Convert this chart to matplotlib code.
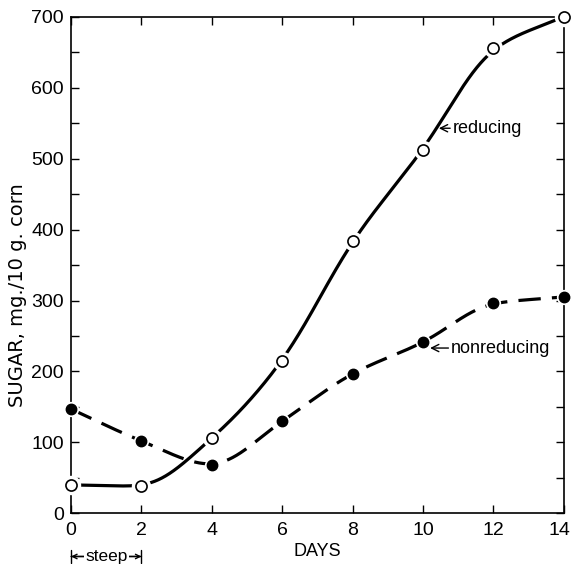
import numpy as np
import matplotlib
matplotlib.use("Agg")
import matplotlib.pyplot as plt
from matplotlib.transforms import ScaledTranslation

# data
days = [0, 2, 4, 6, 8, 10, 12, 14]
reducing = [40, 38, 106, 215, 384, 513, 656, 700]
nonreducing = [147, 102, 68, 130, 197, 241, 296, 305]

plt.rcParams['font.family'] = ['Liberation Sans', 'DejaVu Sans']


def pchip(x, y, xs):
    # monotone cubic (Fritsch-Carlson) through the points, only for drawing the curve
    x = np.asarray(x, float)
    y = np.asarray(y, float)
    h = np.diff(x)
    d = np.diff(y) / h
    m = np.zeros_like(y)
    for i in range(1, len(x) - 1):
        if d[i - 1] * d[i] > 0:
            w1 = 2 * h[i] + h[i - 1]
            w2 = h[i] + 2 * h[i - 1]
            m[i] = (w1 + w2) / (w1 / d[i - 1] + w2 / d[i])
    m[0] = d[0]
    m[-1] = d[-1]
    idx = np.clip(np.searchsorted(x, xs) - 1, 0, len(x) - 2)
    t = (xs - x[idx]) / h[idx]
    h00 = 2 * t ** 3 - 3 * t ** 2 + 1
    h10 = t ** 3 - 2 * t ** 2 + t
    h01 = -2 * t ** 3 + 3 * t ** 2
    h11 = t ** 3 - t ** 2
    return h00 * y[idx] + h10 * h[idx] * m[idx] + h01 * y[idx + 1] + h11 * h[idx] * m[idx + 1]


def smooth_curve(x, y, sigma=0.4, step=0.01):
    # hand-drawn look: monotone cubic, then a light gaussian blur along x
    xs = np.arange(x[0], x[-1] + step / 2, step)
    ys = pchip(x, y, xs)
    pad = int(4 * sigma / step)
    left = ys[0] - (ys[1] - ys[0]) * np.arange(pad, 0, -1)
    right = ys[-1] + (ys[-1] - ys[-2]) * np.arange(1, pad + 1)
    full = np.concatenate([left, ys, right])
    k = np.arange(-pad, pad + 1) * step
    w = np.exp(-0.5 * (k / sigma) ** 2)
    w /= w.sum()
    return xs, np.convolve(full, w, mode='valid')


fig = plt.figure(figsize=(5.73, 5.64), dpi=100)
ax = fig.add_axes([0.124, 0.090, 0.860, 0.880])

sx, sy = smooth_curve(days, reducing)
ax.plot(sx, sy, color='black', lw=2.3, solid_capstyle='butt', clip_on=False, zorder=2)
sx, sy = smooth_curve(days, nonreducing, sigma=0.3)
ax.plot(sx, sy, color='black', lw=2.3, dashes=(7, 3.5), clip_on=False, zorder=2)

# white halo so the lines stop short of the markers
ax.plot(days, reducing, 'o', ms=14, color='white', mec='none', clip_on=False, zorder=3)
ax.plot(days, nonreducing, 'o', ms=11, color='white', mec='none', clip_on=False, zorder=3)
ax.plot(days, reducing, 'o', ms=8, mfc='white', mec='black', mew=1.2, clip_on=False, zorder=4)
ax.plot(days, nonreducing, 'o', ms=7.5, mfc='black', mec='black', clip_on=False, zorder=4)

ax.annotate('reducing', xy=(10.45, 543), xytext=(10.85, 543), fontsize=13, va='center',
            arrowprops=dict(arrowstyle='->', color='black', lw=1, shrinkA=0, shrinkB=0))
ax.annotate('nonreducing', xy=(10.2, 233), xytext=(10.8, 233), fontsize=13, va='center',
            arrowprops=dict(arrowstyle='->', color='black', lw=1, shrinkA=0, shrinkB=0))

ax.set_xlim(0, 14)
ax.set_ylim(0, 700)
ax.set_xticks(range(0, 15, 2))
ax.set_yticks(range(0, 701, 100))
ax.set_yticks(range(0, 701, 50), minor=True)
ax.set_yticklabels(['0', '100', '200', '300', '400', '500', '600', '700'])
ax.tick_params(which='both', direction='in', top=True, right=True, labelsize=14,
               length=6, width=1)
ax.tick_params(axis='y', pad=5)
ax.tick_params(axis='x', pad=6)
for s in ax.spines.values():
    s.set_linewidth(1.2)

# keep the last day label inside the picture
last = ax.get_xticklabels()[-1]
last.set_transform(last.get_transform() + ScaledTranslation(-3 / 72, 0, fig.dpi_scale_trans))

ax.set_xlabel('DAYS', fontsize=13, labelpad=3)
ax.set_ylabel('SUGAR, mg./10 g. corn', fontsize=14, family=['DejaVu Sans'])
ax.yaxis.set_label_coords(-0.089, 0.44)

# steep period marker under the axis
ax.annotate('', xy=(0, -61), xytext=(2, -61), xycoords='data', textcoords='data',
            arrowprops=dict(arrowstyle='|-|', color='black', lw=1, mutation_scale=5,
                            shrinkA=0, shrinkB=0),
            annotation_clip=False)
ax.annotate('', xy=(0, -61), xytext=(2, -61), xycoords='data', textcoords='data',
            arrowprops=dict(arrowstyle='<->', color='black', lw=1, mutation_scale=8,
                            shrinkA=0, shrinkB=0),
            annotation_clip=False)
ax.text(1.0, -61, 'steep', ha='center', va='center', fontsize=12.5,
        bbox=dict(fc='white', ec='none', pad=1))

fig.savefig('out.png', dpi=100)
